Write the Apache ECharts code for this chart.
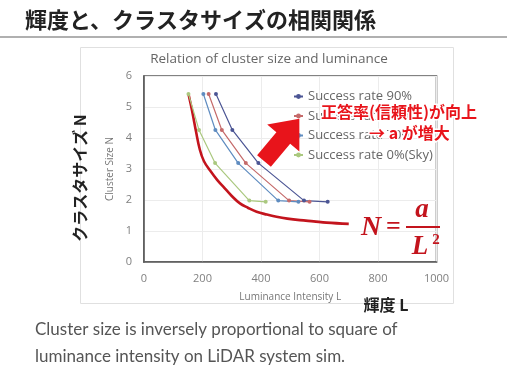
<!DOCTYPE html>
<html><head><meta charset="utf-8">
<script src="https://cdn.jsdelivr.net/npm/echarts@6/dist/echarts.min.js"></script>
<style>html,body{margin:0;padding:0;background:#fff}#c{width:516px;height:370px}</style>
</head><body><div id="c"></div>
<script>
// ---- data ----
const seriesNames = ['Success rate 90%', 'Success rate 80%', 'Success rate 70%', 'Success rate 0%(Sky)'];
const clusterSize = [5.42, 4.26, 3.19, 1.98, 1.94];
const lum90 = [246, 302, 391, 547, 628];
const lum80 = [221, 266, 348, 496, 566];
const lum70 = [203, 244, 322, 459, 528];
const lumSky = [152, 188, 243, 360, 416];
const fitL = [152, 165, 178, 191, 205, 226, 250, 271, 300, 328, 355, 385, 420, 453, 490, 533, 580, 624, 700];
const fitN = [5.42, 4.85, 4.2, 3.62, 3.25, 2.95, 2.65, 2.43, 2.13, 1.89, 1.75, 1.62, 1.53, 1.46, 1.40, 1.35, 1.31, 1.27, 1.23];
const xTicks = [0, 200, 400, 600, 800, 1000];
const yTicks = [0, 1, 2, 3, 4, 5, 6];

const colors = ['#4b5594', '#c56a6a', '#5f8cc0', '#aac87f'];
const lumArrays = [lum90, lum80, lum70, lumSky];
const pair = (xs, ys) => xs.map((x, i) => [x, ys[i]]);

const chart = echarts.init(document.getElementById('c'), null, {renderer: 'canvas'});
const FONT = '"Open Sans", "Noto Sans", sans-serif';
const JP = '"Noto Sans CJK JP", sans-serif';
const SERIF = '"Liberation Serif", "DejaVu Serif", serif';

const series = lumArrays.map((arr, i) => ({
  name: seriesNames[i], type: 'line', data: pair(arr, clusterSize),
  symbol: 'circle', symbolSize: 4, showSymbol: true,
  lineStyle: {width: 1.2, color: colors[i]}, itemStyle: {color: colors[i]},
  emphasis: {disabled: true}, z: 3
}));
series.push({
  name: 'fit', type: 'line', data: pair(fitL, fitN), smooth: 0.4,
  symbol: 'none', lineStyle: {width: 2.6, color: '#c3141d'}, z: 2, emphasis: {disabled: true}
});

// arrow shape (annotation)
const arrowPts = [[0, -9], [30, -9], [30, -21], [55, 0], [30, 21], [30, 9], [0, 9]];

chart.setOption({
  animation: false,
  textStyle: {fontFamily: FONT},
  title: {
    text: 'Relation of cluster size and luminance', left: 264, top: 47, textAlign: 'center',
    textStyle: {fontSize: 13.5, fontWeight: 'normal', color: '#666', fontFamily: FONT}
  },
  grid: {left: 144, right: 79.5, top: 76, bottom: 108, show: true, borderColor: '#5a5a5a', borderWidth: 1.6, backgroundColor: 'transparent'},
  xAxis: {
    type: 'value', min: 0, max: 1000, interval: 200,
    name: 'Luminance Intensity L', nameLocation: 'middle', nameGap: 30,
    nameTextStyle: {fontSize: 10, color: '#777', fontFamily: FONT},
    axisLine: {show: true, lineStyle: {color: '#5a5a5a', width: 1.6}},
    axisTick: {show: false},
    axisLabel: {color: '#808080', fontSize: 11, margin: 11, formatter: v => xTicks.includes(v) ? String(v) : ''},
    splitLine: {show: true, lineStyle: {color: '#ececec', width: 1}}
  },
  yAxis: {
    type: 'value', min: 0, max: 6, interval: 1,
    name: 'Cluster Size N', nameLocation: 'middle', nameGap: 28,
    nameTextStyle: {fontSize: 10, color: '#777', fontFamily: FONT},
    axisLine: {show: true, lineStyle: {color: '#5a5a5a', width: 1.6}},
    axisTick: {show: false},
    axisLabel: {color: '#808080', fontSize: 11, margin: 12, formatter: v => yTicks.includes(v) ? String(v) : ''},
    splitLine: {show: true, lineStyle: {color: '#ececec', width: 1}}
  },
  legend: {
    data: seriesNames, orient: 'vertical', left: 288, top: 85, itemGap: 6.5,
    itemWidth: 9, itemHeight: 6, textStyle: {fontSize: 13, color: '#666', fontFamily: FONT}
  },
  series: series,
  graphic: [
    {type: 'rect', left: 80, top: 47, z: -10, silent: true,
     shape: {width: 373, height: 256}, style: {fill: 'transparent', stroke: '#e0e0e0', lineWidth: 1}},
    {type: 'line', z: -10, silent: true, shape: {x1: 0, y1: 37, x2: 507, y2: 37}, style: {stroke: '#b0b0b0', lineWidth: 2}},
    {type: 'text', left: 25, top: 9, z: 100, style: {text: '輝度と、クラスタサイズの相関関係', font: 'bold 22px ' + JP, fill: '#222'}},
    {type: 'polygon', x: 264, y: 161, rotation: 50 * Math.PI / 180, z: 90, silent: true,
     shape: {points: arrowPts}, style: {fill: '#e8141b'}},
    {type: 'text', x: 321, y: 112, z: 100, style: {text: '正答率(信頼性)が向上', font: 'bold 16px ' + JP, fill: '#e8141b', stroke: '#fff', lineWidth: 3, verticalAlign: 'middle'}},
    {type: 'text', x: 369, y: 133, z: 100, style: {text: '→ a が増大', font: 'bold 16px ' + JP, fill: '#e8141b', stroke: '#fff', lineWidth: 3, verticalAlign: 'middle'}},
    {type: 'text', x: 361, y: 228, z: 100, style: {text: 'N', font: 'italic bold 28px ' + SERIF, fill: '#c3141d', verticalAlign: 'middle'}},
    {type: 'text', x: 386, y: 227, z: 100, style: {text: '=', font: 'bold 26px ' + SERIF, fill: '#c3141d', verticalAlign: 'middle'}},
    {type: 'text', x: 422, y: 210, z: 100, style: {text: 'a', font: 'italic bold 27px ' + SERIF, fill: '#c3141d', verticalAlign: 'middle', align: 'center'}},
    {type: 'line', z: 100, shape: {x1: 406, y1: 227, x2: 440, y2: 227}, style: {stroke: '#c3141d', lineWidth: 2.2}},
    {type: 'text', x: 420, y: 247, z: 100, style: {text: 'L', font: 'italic bold 27px ' + SERIF, fill: '#c3141d', verticalAlign: 'middle', align: 'center'}},
    {type: 'text', x: 436, y: 240, z: 100, style: {text: '2', font: 'bold 15px ' + SERIF, fill: '#c3141d', verticalAlign: 'middle', align: 'center'}},
    {type: 'text', x: 80, y: 178, z: 100, rotation: Math.PI / 2, style: {text: 'クラスタサイズ N', font: 'bold 16px ' + JP, fill: '#222', align: 'center', verticalAlign: 'middle'}},
    {type: 'text', x: 386, y: 305, z: 100, style: {text: '輝度 L', font: 'bold 16px ' + JP, fill: '#222', align: 'center', verticalAlign: 'middle'}},
    {type: 'text', x: 35, y: 330, z: 100, style: {text: 'Cluster size is inversely proportional to square of', font: '17px Lato, ' + FONT, fill: '#555', verticalAlign: 'middle'}},
    {type: 'text', x: 35, y: 357, z: 100, style: {text: 'luminance intensity on LiDAR system sim.', font: '17px Lato, ' + FONT, fill: '#555', verticalAlign: 'middle'}}
  ]
});
</script></body></html>
